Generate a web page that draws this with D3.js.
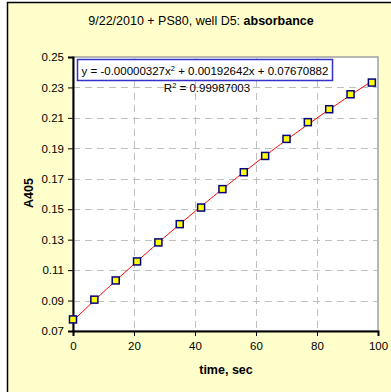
<!DOCTYPE html>
<html>
<head>
<meta charset="utf-8">
<script src="https://cdn.jsdelivr.net/npm/d3@7"></script>
<style>
  body { margin: 0; background: #fff; }
  svg text { font-family: Arial, "Liberation Sans", sans-serif; }
</style>
</head>
<body>
<svg id="chart" width="391" height="392"></svg>
<script>
// time points (sec) and absorbance readings
var timeSec = [0, 7, 14, 21, 28, 35, 42, 49, 56, 63, 70, 77, 84, 91, 98];
var a405    = [0.0776, 0.0906, 0.1032, 0.1157, 0.1282, 0.1402, 0.1511, 0.1632,
               0.1743, 0.1850, 0.1962, 0.2072, 0.2157, 0.2255, 0.2332];

// trendline coefficients as printed on the chart: c0 + c1*x + c2*x^2
var trendCoef = [0.07670882, 0.00192642, -0.00000327];
var trendText = "y = -0.00000327x";
var trendText2 = " + 0.00192642x + 0.07670882";
var r2Text = " = 0.99987003";

var xTicks = [0, 20, 40, 60, 80, 100];
var yTicks = [0.07, 0.09, 0.11, 0.13, 0.15, 0.17, 0.19, 0.21, 0.23, 0.25];

var svg = d3.select("#chart");

// plot box (window.top is taken, so pl* names)
var plLeft = 73, plRight = 378, plTop = 57, plBottom = 331;

// chart area background, the frame runs past the picture on right/bottom
svg.append("rect")
	.attr("x", 7.5).attr("y", 2.5)
	.attr("width", 400).attr("height", 400)
	.attr("fill", "#FFFFCC")
	.attr("stroke", "#000").attr("stroke-width", 1.5);

var x = d3.scaleLinear().domain([0, 100]).range([plLeft, plRight]);
var y = d3.scaleLinear().domain([0.07, 0.25]).range([plBottom, plTop]);

// plot area
svg.append("rect")
	.attr("x", plLeft).attr("y", plTop)
	.attr("width", plRight - plLeft).attr("height", plBottom - plTop)
	.attr("fill", "#fff")
	.attr("stroke", "#a0a0a0").attr("stroke-width", 1.5);

// dashed grid
var grid = svg.append("g").attr("stroke", "#c0c0c0").attr("stroke-dasharray", "7,5");
grid.selectAll("line.h")
	.data(yTicks.slice(1, -1))
	.enter().append("line")
	.attr("x1", plLeft).attr("x2", plRight)
	.attr("y1", function(d){ return Math.round(y(d)) + 0.5; })
	.attr("y2", function(d){ return Math.round(y(d)) + 0.5; });
grid.selectAll("line.v")
	.data(xTicks.slice(1, -1))
	.enter().append("line")
	.attr("y1", plTop).attr("y2", plBottom)
	.attr("x1", function(d){ return Math.round(x(d)) + 0.5; })
	.attr("x2", function(d){ return Math.round(x(d)) + 0.5; });

// axes
var yAxis = svg.append("g")
	.attr("transform", "translate(" + plLeft + ",0)")
	.call(d3.axisLeft(y).tickValues(yTicks).tickSize(5).tickPadding(4)
		.tickFormat(d3.format(".2f")));
var xAxis = svg.append("g")
	.attr("transform", "translate(0," + plBottom + ")")
	.call(d3.axisBottom(x).tickValues(xTicks).tickSize(5).tickPadding(6)
		.tickFormat(d3.format("d")));

[yAxis, xAxis].forEach(function(ax) {
	ax.select(".domain").attr("stroke", "#000").attr("stroke-width", 2);
	ax.selectAll(".tick line").attr("stroke", "#000");
	ax.selectAll(".tick text").attr("font-size", 11.5).attr("fill", "#000")
		.style("font-family", "Arial, 'Liberation Sans', sans-serif");
});

// trendline from printed coefficients
var fitX = d3.range(0, 98.01, 1);
var line = d3.line()
	.x(function(d){ return x(d); })
	.y(function(d){ return y(trendCoef[0] + trendCoef[1]*d + trendCoef[2]*d*d); });
svg.append("path")
	.datum(fitX)
	.attr("d", line)
	.attr("fill", "none")
	.attr("stroke", "#ff0000")
	.attr("stroke-width", 1);

// markers
svg.selectAll("rect.pt")
	.data(timeSec)
	.enter().append("rect")
	.attr("class", "pt")
	.attr("x", function(d){ return x(d) - 3.5; })
	.attr("y", function(d, i){ return y(a405[i]) - 3.5; })
	.attr("width", 7).attr("height", 7)
	.attr("fill", "#ffff00")
	.attr("stroke", "#000080")
	.attr("stroke-width", 1.5);

// title
var title = svg.append("text")
	.attr("x", 201).attr("y", 25)
	.attr("text-anchor", "middle")
	.attr("font-size", 12.5);
title.append("tspan").text("9/22/2010 + PS80, well D5: ");
title.append("tspan").attr("font-weight", "bold").text("absorbance");

// axis titles
svg.append("text")
	.attr("x", 226).attr("y", 374)
	.attr("text-anchor", "middle")
	.attr("font-size", 12.5).attr("font-weight", "bold")
	.text("time, sec");
svg.append("text")
	.attr("transform", "translate(33,193) rotate(-90)")
	.attr("text-anchor", "middle")
	.attr("font-size", 12.5).attr("font-weight", "bold")
	.text("A405");

// equation box
svg.append("rect")
	.attr("x", 77.5).attr("y", 59.5)
	.attr("width", 255).attr("height", 21)
	.attr("fill", "#fff")
	.attr("stroke", "#3333cc").attr("stroke-width", 1.5);
var eq = svg.append("text")
	.attr("x", 205).attr("y", 75)
	.attr("text-anchor", "middle")
	.attr("font-size", 11.5);
eq.append("tspan").text(trendText);
eq.append("tspan").attr("font-size", 7.5).attr("dy", -4).text("2");
eq.append("tspan").attr("dy", 4).text(trendText2);

var r2 = svg.append("text")
	.attr("x", 207).attr("y", 92)
	.attr("text-anchor", "middle")
	.attr("font-size", 11.5);
r2.append("tspan").text("R");
r2.append("tspan").attr("font-size", 7.5).attr("dy", -4).text("2");
r2.append("tspan").attr("dy", 4).text(r2Text);
</script>
</body>
</html>
